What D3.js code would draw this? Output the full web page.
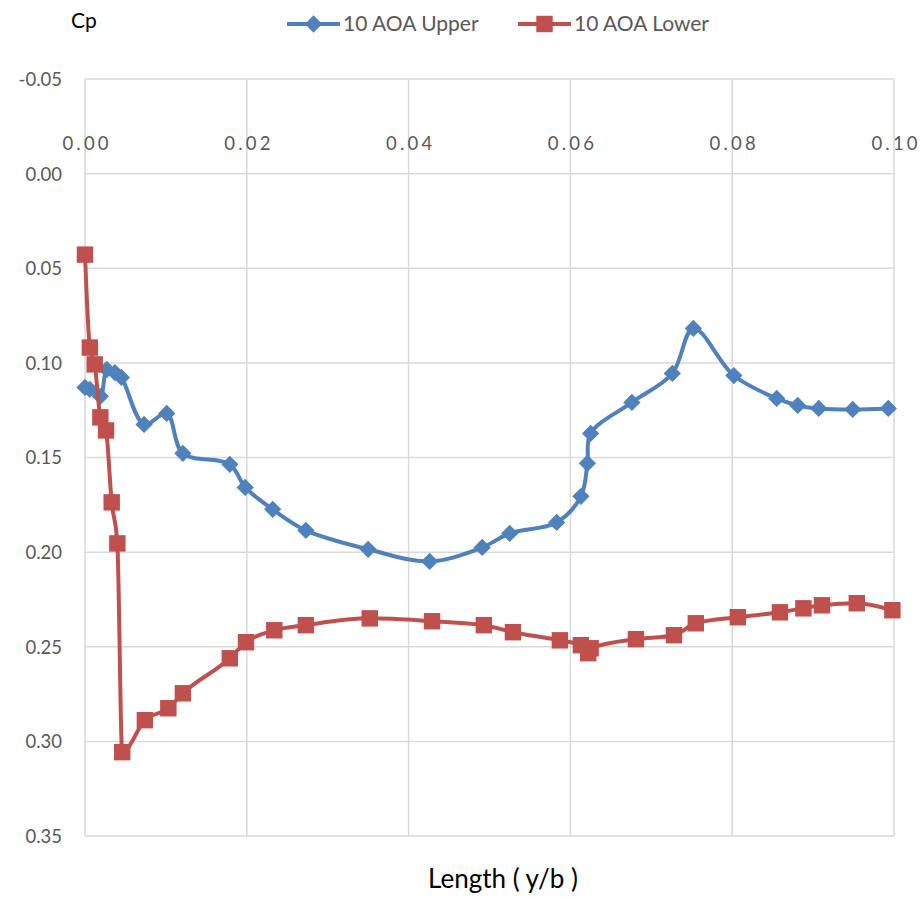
<!DOCTYPE html>
<html>
<head>
<meta charset="utf-8">
<script src="https://cdn.jsdelivr.net/npm/d3@7/dist/d3.min.js"></script>
<style>
  html, body { margin: 0; padding: 0; background: #fff; }
  svg { display: block; font-family: Lato, "Open Sans", sans-serif; }
</style>
</head>
<body>
<svg id="chart" width="920" height="897"></svg>
<script>
// Pressure coefficient along the span, 10 degrees angle of attack
const upperX = [0.0000, 0.0006, 0.0019, 0.0027, 0.0037, 0.0045, 0.0073, 0.0101, 0.0121, 0.0179,
                0.0198, 0.0232, 0.0273, 0.0350, 0.0426, 0.0491, 0.0525, 0.0583, 0.0613, 0.0621,
                0.0625, 0.0676, 0.0726, 0.0752, 0.0802, 0.0855, 0.0881, 0.0907, 0.0949, 0.0993];
const upperCp = [0.1130, 0.1140, 0.1177, 0.1035, 0.1051, 0.1077, 0.1325, 0.1267, 0.1478, 0.1536,
                 0.1658, 0.1774, 0.1885, 0.1985, 0.2049, 0.1975, 0.1901, 0.1843, 0.1705, 0.1531,
                 0.1373, 0.1209, 0.1056, 0.0818, 0.1067, 0.1188, 0.1225, 0.1241, 0.1246, 0.1241];

const lowerX = [0.0000, 0.0006, 0.0012, 0.0019, 0.0026, 0.0033, 0.0040, 0.0046, 0.0074, 0.0103,
                0.0121, 0.0179, 0.0199, 0.0234, 0.0273, 0.0352, 0.0429, 0.0493, 0.0529, 0.0587,
                0.0613, 0.0622, 0.0625, 0.0681, 0.0728, 0.0755, 0.0807, 0.0859, 0.0888, 0.0911,
                0.0954, 0.0998];
const lowerCp = [0.0428, 0.0919, 0.1008, 0.1288, 0.1357, 0.1737, 0.1954, 0.3057, 0.2888, 0.2825,
                 0.2746, 0.2561, 0.2476, 0.2413, 0.2386, 0.2350, 0.2365, 0.2386, 0.2423, 0.2466,
                 0.2492, 0.2534, 0.2508, 0.2460, 0.2439, 0.2376, 0.2344, 0.2318, 0.2297, 0.2281,
                 0.2270, 0.2307];

const xTicks = [0.00, 0.02, 0.04, 0.06, 0.08, 0.10];
const yTicks = [-0.05, 0.00, 0.05, 0.10, 0.15, 0.20, 0.25, 0.30, 0.35];
const seriesNames = ["10 AOA Upper", "10 AOA Lower"];
const seriesColors = ["#4F81BD", "#C0504D"];

const svg = d3.select("#chart");
const plot = { left: 85, right: 894, top: 79, bottom: 836 };

const x = d3.scaleLinear().domain([0, 0.10]).range([plot.left, plot.right]);
// Cp axis is reversed: negative values at the top
const y = d3.scaleLinear().domain([-0.05, 0.35]).range([plot.top, plot.bottom]);

// Plain hyphen for the minus sign
const fmt = d => d.toFixed(2);

// Gridlines
const grid = svg.append("g").attr("stroke", "#D9D9D9").attr("stroke-width", 1.5);
grid.selectAll("line.h").data(yTicks).join("line")
  .attr("x1", plot.left).attr("x2", plot.right)
  .attr("y1", d => y(d)).attr("y2", d => y(d));
grid.selectAll("line.v").data(xTicks).join("line")
  .attr("x1", d => x(d)).attr("x2", d => x(d))
  .attr("y1", plot.top).attr("y2", plot.bottom);

// Y axis labels
const yAxis = d3.axisLeft(y).tickValues(yTicks).tickFormat(fmt).tickSize(0).tickPadding(0);
svg.append("g").attr("transform", `translate(${plot.left - 23},0)`).call(yAxis)
  .call(g => g.select(".domain").remove())
  .call(g => g.selectAll("text").attr("fill", "#595959").attr("font-size", 18.5)
    .attr("font-family", "Lato, sans-serif").attr("dy", "0.35em"));

// X axis labels placed just above Cp = 0
const xAxis = d3.axisTop(x).tickValues(xTicks).tickFormat(fmt).tickSize(0).tickPadding(0);
svg.append("g").attr("transform", `translate(0,${y(0) - 24})`).call(xAxis)
  .call(g => g.select(".domain").remove())
  .call(g => g.selectAll("text").attr("fill", "#595959").attr("font-size", 18.5)
    .attr("font-family", "Lato, sans-serif").attr("letter-spacing", "3.2px")
    .attr("dy", "0").attr("dx", "1.6px"));

// Series
const lineSmooth = d3.line().x(d => x(d[0])).y(d => y(d[1])).curve(d3.curveCatmullRom.alpha(0.5));
const lineMono = d3.line().x(d => x(d[0])).y(d => y(d[1])).curve(d3.curveMonotoneX);
const upper = upperX.map((v, i) => [v, upperCp[i]]);
const lower = lowerX.map((v, i) => [v, lowerCp[i]]);

const diamond = d3.symbol().type(d3.symbolDiamond2).size(190);
const square = d3.symbol().type(d3.symbolSquare).size(270);

function drawSeries(data, color, sym, gen) {
  svg.append("path").datum(data).attr("d", gen)
    .attr("fill", "none").attr("stroke", color).attr("stroke-width", 4)
    .attr("stroke-linejoin", "round").attr("stroke-linecap", "round");
  svg.append("g").selectAll("path").data(data).join("path")
    .attr("d", sym)
    .attr("transform", d => `translate(${x(d[0])},${y(d[1])})`)
    .attr("fill", color);
}
drawSeries(upper, seriesColors[0], diamond, lineSmooth);
drawSeries(lower, seriesColors[1], square, lineMono);

// Axis titles
svg.append("text").attr("x", 71).attr("y", 28).text("Cp")
  .attr("font-size", 21).attr("fill", "#000").attr("font-family", "Lato, sans-serif");
svg.append("text").attr("x", 503).attr("y", 888)
  .attr("text-anchor", "middle").text("Length ( y/b )")
  .attr("font-size", 26).attr("fill", "#000").attr("font-family", "Lato, sans-serif");

// Legend
const legendItems = [
  { name: seriesNames[0], color: seriesColors[0], sym: diamond, x0: 287 },
  { name: seriesNames[1], color: seriesColors[1], sym: square, x0: 518 }
];
const lg = svg.append("g").selectAll("g").data(legendItems).join("g")
  .attr("transform", d => `translate(${d.x0},24)`);
lg.append("line").attr("x1", 0).attr("x2", 53).attr("y1", 0).attr("y2", 0)
  .attr("stroke", d => d.color).attr("stroke-width", 4);
lg.append("path").attr("d", d => d.sym()).attr("transform", "translate(26.5,0)")
  .attr("fill", d => d.color);
lg.append("text").attr("x", 56).attr("y", 0).attr("dy", "0.35em")
  .text(d => d.name).attr("font-size", 21).attr("fill", "#595959")
  .attr("font-family", "Lato, sans-serif");
</script>
</body>
</html>
